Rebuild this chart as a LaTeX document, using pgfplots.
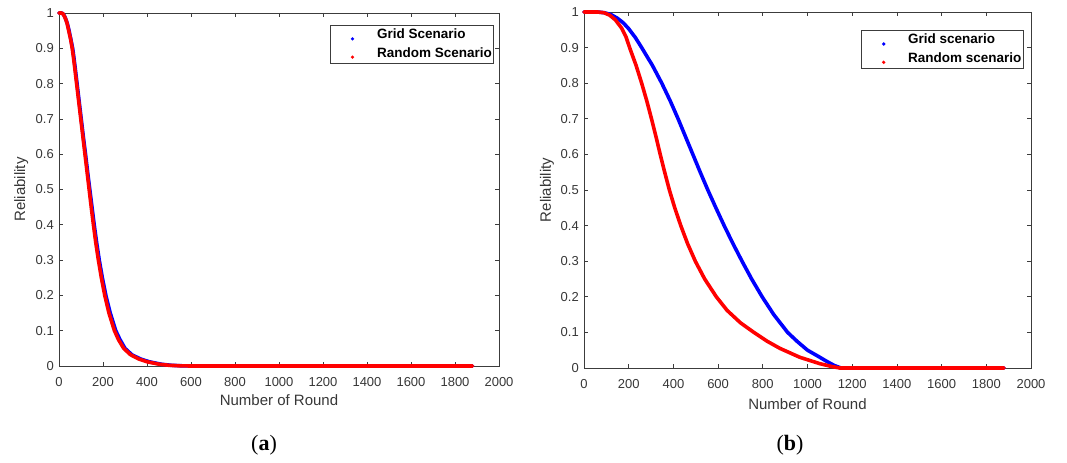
\documentclass[border=0pt]{standalone}
\usepackage{pgfplots}
\pgfplotsset{compat=1.18}
\usepackage{fontspec}
\setmainfont{Liberation Sans}
\newfontfamily\serifcap{Liberation Serif}
\definecolor{axgray}{RGB}{60,60,60}
\definecolor{txtgray}{RGB}{55,55,55}
\pgfplotsset{
 relstyle/.style={
  scale only axis,
  xmin=0,xmax=2000,ymin=0,ymax=1,
  xtick={0,200,400,600,800,1000,1200,1400,1600,1800,2000},
  xticklabels={0,200,400,600,800,1000,1200,1400,1600,1800,2000},
  ytick={0,0.1,0.2,0.3,0.4,0.5,0.6,0.7,0.8,0.9,1},
  yticklabels={0,0.1,0.2,0.3,0.4,0.5,0.6,0.7,0.8,0.9,1},
  tick align=inside,
  major tick length=4bp,
  axis line style={axgray, line width=0.7bp},
  every tick/.style={axgray, line width=0.7bp},
  tick label style={font=\fontsize{13bp}{15bp}\selectfont, text=txtgray},
  xticklabel style={anchor=center, yshift=-16bp, inner sep=0pt},
  yticklabel style={anchor=east, inner sep=0pt, xshift=-5bp},
  label style={font=\fontsize{15bp}{17bp}\selectfont, text=txtgray},
  xlabel={Number of Round}, ylabel={Reliability},
  clip=false,
  legend style={draw=axgray, line width=0.7bp, fill=white, inner xsep=0pt, inner ysep=3.5bp,
    row sep=5.3bp, column sep=0pt, font=\bfseries\fontsize{13.5bp}{15bp}\selectfont, text=black,
    anchor=north east,
    nodes={inner xsep=2bp, inner ysep=0pt, text height=10bp, text depth=3bp, anchor=base west}},
  legend cell align=left,
  legend image code/.code={\path[draw=none,fill=none] (0bp,0bp) -- (45bp,0bp); \fill[draw=none] (22.5bp,0bp) circle (1.8bp);},
 },
 curve/.style={line width=3.6bp, line cap=round, line join=round, no markers},
}
\begin{document}
\begin{tikzpicture}
\useasboundingbox (0,0) rectangle (1067bp,463bp);
% ---------------- panel (a)
\begin{axis}[relstyle, at={(59bp,97bp)}, anchor=south west, width=440bp, height=353bp,
  xlabel style={at={(axis description cs:0.5,-0.098)}, anchor=center},
  ylabel style={at={(axis description cs:-0.086,0.5)}, anchor=center},
  legend style={at={(0.989,0.966)}}]
\addplot[curve, color=blue] coordinates {
(0,1) (10,1) (15,0.999) (20,0.996) (25,0.991) (30,0.984) (37,0.972) (45,0.952) (54,0.925)
(62,0.9) (67.5,0.875) (72.5,0.85) (82,0.8) (91.5,0.75) (101,0.7) (110.5,0.65) (120.5,0.6)
(130,0.55) (140,0.5) (150,0.45) (160,0.4) (171,0.35) (183,0.3) (197,0.25) (213,0.2)
(233,0.15) (258,0.1) (277,0.075) (300,0.05) (331,0.032) (370,0.02) (410,0.012) (465,0.005)
(510,0.002) (560,0.0005) (610,0) (1880,0)};
\addlegendentry{Grid Scenario}
\addplot[curve, color=red] coordinates {
(0,1) (10,1) (15,0.999) (20,0.996) (25,0.99) (30,0.983) (37,0.97) (44,0.95) (53,0.925)
(60,0.9) (65.5,0.875) (70.5,0.85) (80,0.8) (89.5,0.75) (99,0.7) (108.5,0.65) (118,0.6)
(127.5,0.55) (137,0.5) (146.5,0.45) (156.5,0.4) (167,0.35) (179,0.3) (192.5,0.25) (208,0.2)
(227,0.15) (252,0.1) (270,0.075) (294,0.05) (325,0.032) (362,0.02) (400,0.012) (455,0.005)
(500,0.002) (550,0.0005) (600,0) (1880,0)};
\addlegendentry{Random Scenario}
\end{axis}
% ---------------- panel (b)
\begin{axis}[relstyle, at={(584bp,95bp)}, anchor=south west, width=447bp, height=356bp,
  xlabel style={at={(axis description cs:0.5,-0.101)}, anchor=center},
  ylabel style={at={(axis description cs:-0.083,0.5)}, anchor=center},
  legend style={at={(0.984,0.949)}}]
\addplot[curve, color=blue] coordinates {
(0,1) (60,1) (90,0.998) (120,0.993) (148,0.983) (175,0.97) (200,0.953) (230,0.928)
(258,0.9) (306,0.85) (348,0.8) (386,0.75) (421,0.7) (454,0.65) (487,0.6) (520,0.55)
(554,0.5) (590,0.45) (627,0.4) (666,0.35) (707,0.3) (750,0.25) (797,0.2) (849,0.15)
(880,0.125) (911,0.1) (955,0.074) (1000,0.05) (1050,0.032) (1085,0.019) (1120,0.007)
(1150,0) (1880,0)};
\addlegendentry{Grid scenario}
\addplot[curve, color=red] coordinates {
(0,1) (60,1) (89,0.998) (115,0.991) (140,0.978) (168,0.955) (188,0.93) (204,0.9)
(233,0.85) (258,0.8) (281,0.75) (302,0.7) (322,0.65) (341,0.6) (361,0.55) (382,0.5)
(406,0.45) (433,0.4) (463,0.35) (498,0.3) (540,0.25) (592,0.2) (640,0.162) (700,0.127)
(760,0.1) (820,0.075) (877,0.055) (966,0.03) (1056,0.012) (1110,0.004) (1145,0) (1880,0)};
\addlegendentry{Random scenario}
\end{axis}
\node[font=\serifcap\fontsize{22bp}{24bp}\selectfont] at (264bp,18bp) {(\textbf{a})};
\node[font=\serifcap\fontsize{22bp}{24bp}\selectfont] at (790bp,18bp) {(\textbf{b})};
\end{tikzpicture}
\end{document}
